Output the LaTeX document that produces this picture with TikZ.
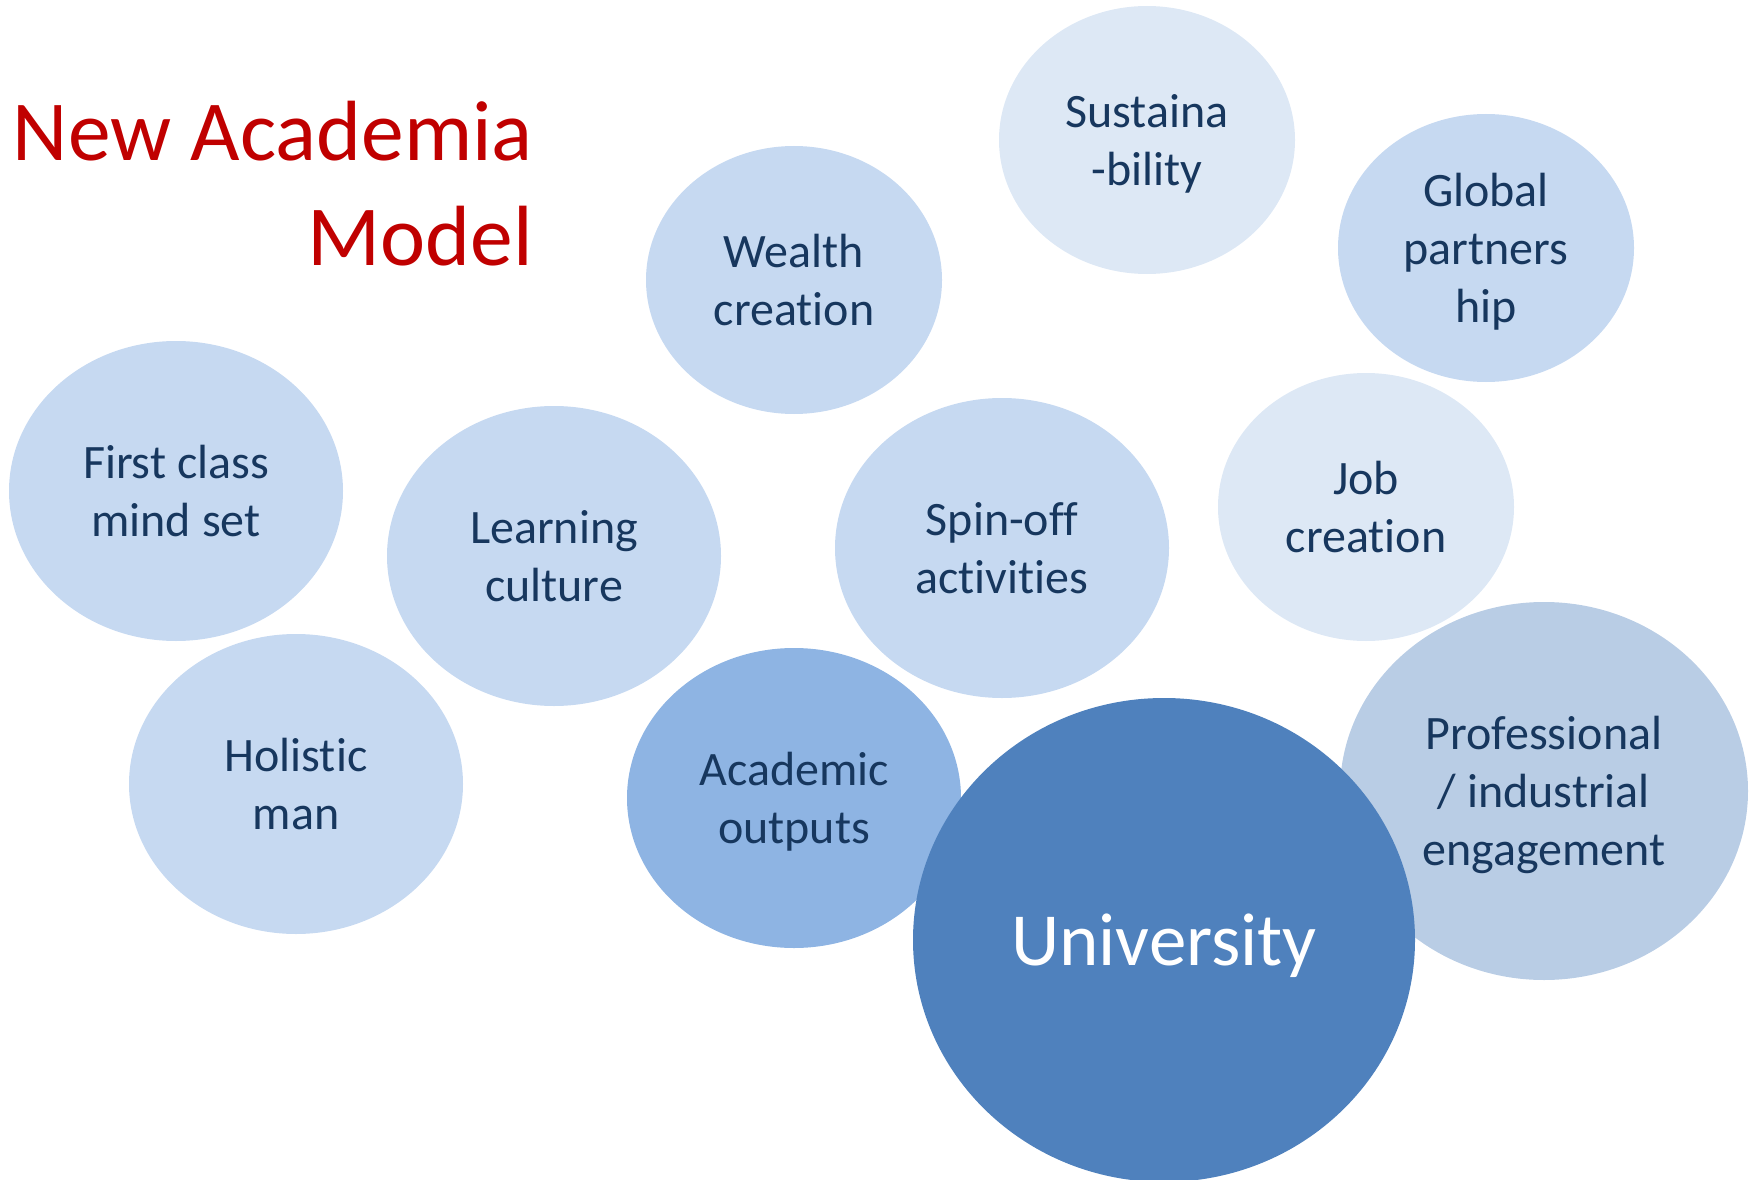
\documentclass[tikz,border=0pt]{standalone}
\usepackage{fontspec}
\setmainfont{Carlito}[Ligatures=NoCommon]
\usetikzlibrary{shapes.geometric}
\definecolor{navy}{HTML}{17375E}
\definecolor{titlered}{HTML}{C00000}
\definecolor{paleblue}{HTML}{DDE8F5}
\definecolor{lightblue}{HTML}{C6D9F1}
\definecolor{greyblue}{HTML}{B9CDE5}
\definecolor{midblue}{HTML}{8EB4E3}
\definecolor{darkblue}{HTML}{4F81BD}
\begin{document}
\begin{tikzpicture}[x=1pt,y=-1pt,
  bubble/.style={ellipse, fill=#1, draw=none, text=navy, align=center,
    inner sep=0pt, text depth=0pt, font=\fontsize{48}{58}\selectfont},
  smallbub/.style={minimum width=296pt, minimum height=268pt},
  bigbub/.style={minimum width=334pt, minimum height=300pt}]
\useasboundingbox (0,0) rectangle (1754,1180);
% title
\node[anchor=north east, align=right, inner sep=0pt, text=titlered,
  font=\fontsize{85.5}{105}\selectfont] (title) at (533,101) {New Academia\\Model};
% top row
\node[bubble=paleblue, smallbub] (sustain) at (1147,140) {Sustaina\\-bility};
\node[bubble=lightblue, smallbub] (global) at (1486,248) {Global\\partners\\hip};
\node[bubble=lightblue, smallbub] (wealth) at (794,280) {Wealth\\creation};
% middle row
\node[bubble=lightblue, bigbub] (firstclass) at (176,491) {First class\\mind set};
\node[bubble=lightblue, bigbub] (learning) at (554,556) {Learning\\culture};
\node[bubble=lightblue, bigbub] (spinoff) at (1002,548) {Spin-off\\activities};
\node[bubble=paleblue, smallbub] (job) at (1366,507) {Job\\creation};
% bottom row
\node[bubble=lightblue, bigbub] (holistic) at (296,784) {Holistic\\man};
\node[bubble=midblue, bigbub] (academic) at (794,798) {Academic\\outputs};
\node[bubble=greyblue, minimum width=408pt, minimum height=378pt] (prof)
  at (1544,791) {Professional\\/ industrial\\engagement};
\node[bubble=darkblue, minimum width=502pt, minimum height=484pt, text=white,
  font=\fontsize{75}{90}\selectfont] (univ) at (1164,940) {University};
\end{tikzpicture}
\end{document}
